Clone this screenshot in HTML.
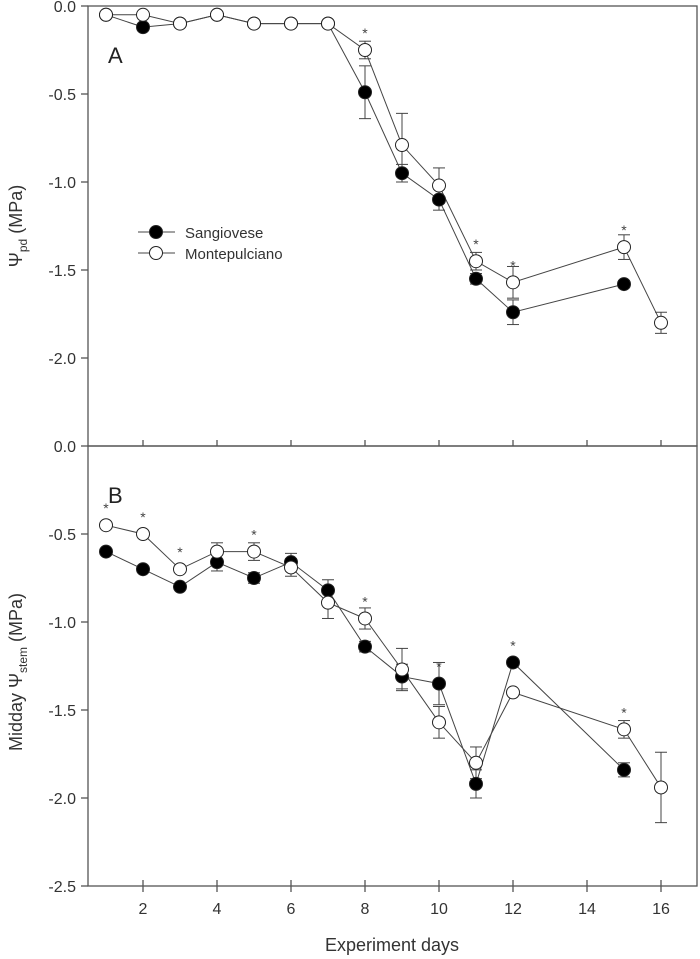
<!DOCTYPE html>
<html><head><meta charset="utf-8"><style>
body{margin:0;background:#fff}
svg{display:block;font-family:"Liberation Sans",Arial,sans-serif}
</style></head><body>
<svg id="chart" width="700" height="959" xmlns="http://www.w3.org/2000/svg"></svg>
<script>
const daysSA=[1,2,3,4,5,6,7,8,9,10,11,12,15];
const valSA=[-0.05,-0.12,-0.10,-0.05,-0.10,-0.10,-0.10,-0.49,-0.95,-1.10,-1.55,-1.74,-1.58];
const errSA=[0,0.02,0,0,0,0,0,0.15,0.05,0.06,0.03,0.07,0.02];
const daysMA=[1,2,3,4,5,6,7,8,9,10,11,12,15,16];
const valMA=[-0.05,-0.05,-0.10,-0.05,-0.10,-0.10,-0.10,-0.25,-0.79,-1.02,-1.45,-1.57,-1.37,-1.80];
const errMA=[0,0,0,0,0,0,0,0.05,0.18,0.10,0.05,0.09,0.07,0.06];
const starsA=[[8,-0.25],[11,-1.45],[12,-1.57],[15,-1.37]];
const daysSB=[1,2,3,4,5,6,7,8,9,10,11,12,15];
const valSB=[-0.60,-0.70,-0.80,-0.66,-0.75,-0.66,-0.82,-1.14,-1.31,-1.35,-1.92,-1.23,-1.84];
const errSB=[0,0,0.01,0.05,0.03,0.05,0.06,0.03,0.07,0.12,0.08,0.02,0.04];
const daysMB=[1,2,3,4,5,6,7,8,9,10,11,12,15,16];
const valMB=[-0.45,-0.50,-0.70,-0.60,-0.60,-0.69,-0.89,-0.98,-1.27,-1.57,-1.80,-1.40,-1.61,-1.94];
const errMB=[0,0,0,0.05,0.05,0.05,0.09,0.06,0.12,0.09,0.09,0,0.05,0.2];
const starsB=[[1,-0.45],[2,-0.50],[3,-0.70],[5,-0.60],[8,-0.98],[10,-1.35],[12,-1.23],[15,-1.61]];
const yTicksA=[0,-0.5,-1.0,-1.5,-2.0];
const yTicksB=[0,-0.5,-1.0,-1.5,-2.0,-2.5];
const xTicks=[2,4,6,8,10,12,14,16];

const NS="http://www.w3.org/2000/svg";
const svg=document.getElementById('chart');
const L=88,R=697,C="#555";
function xs(d){return 143+(d-2)*37;}
function mk(tag,attrs,parent){const e=document.createElementNS(NS,tag);for(const k in attrs)e.setAttribute(k,attrs[k]);(parent||svg).appendChild(e);return e;}
function panel(top,bottom,name,label,sets,stars,showBottomLabels,yTicks){
  const ys=v=>top+(-v)/2.5*(bottom-top);
  const g=mk('g',{});
  
  
  let r=mk('rect',{x:L,y:top,width:R-L,height:bottom-top,fill:'none',stroke:C,'stroke-width':1.3},g);
  
  
  yTicks.forEach(t=>{
    mk('line',{x1:L-7,x2:L,y1:ys(t),y2:ys(t),stroke:C,'stroke-width':1.3},g);
    const tx=mk('text',{x:L-12,y:ys(t)+6,'text-anchor':'end','font-size':16,fill:'#333'},g);
    tx.textContent=t.toFixed(1);
    
    
  });
  xTicks.forEach(d=>{
    mk('line',{x1:xs(d),x2:xs(d),y1:bottom,y2:bottom-6,stroke:C,'stroke-width':1.3},g);
    if(showBottomLabels){
      mk('line',{x1:xs(d),x2:xs(d),y1:bottom,y2:bottom+6,stroke:C,'stroke-width':1.3},g);
      const tx=mk('text',{x:xs(d),y:bottom+28,'text-anchor':'middle','font-size':16,fill:'#333'},g);
      tx.textContent=d;
      
      
    }
  });
  sets.forEach(s=>{
    const pts=s.days.map((d,i)=>xs(d)+','+ys(s.vals[i])).join(' ');
    const pl=mk('polyline',{points:pts,fill:'none',stroke:'#444','stroke-width':1},g);
    
    
    s.days.forEach((d,i)=>{
      const e=s.errs[i];
      if(e>0){
        const x=xs(d),y1=ys(s.vals[i]-e),y2=ys(s.vals[i]+e);
        mk('line',{x1:x,x2:x,y1:y1,y2:y2,stroke:'#444','stroke-width':1},g);
        mk('line',{x1:x-6,x2:x+6,y1:y1,y2:y1,stroke:'#444','stroke-width':1},g);
        mk('line',{x1:x-6,x2:x+6,y1:y2,y2:y2,stroke:'#444','stroke-width':1},g);
      }
    });
  });
  sets.forEach(s=>{
    s.days.forEach((d,i)=>{
      const c=mk('circle',{cx:xs(d),cy:ys(s.vals[i]),r:6.5,fill:s.fill,stroke:'#222','stroke-width':1},g);
      
      
    });
  });
  stars.forEach(([d,v])=>{
    const t=mk('text',{x:xs(d),y:ys(v)-12,'text-anchor':'middle','font-size':14,fill:'#444'},g);
    t.textContent='*';
    
    
  });
  const pl=mk('text',{x:108,y:top+57,'font-size':22,fill:'#222'},g);
  pl.textContent=label;
  
  
}
panel(6,446,'panel-a','A',[
 {name:'sangiovese-a',days:daysSA,vals:valSA,errs:errSA,fill:'#000'},
 {name:'montepulciano-a',days:daysMA,vals:valMA,errs:errMA,fill:'#fff'}],starsA,false,yTicksA);
panel(446,886,'panel-b','B',[
 {name:'sangiovese-b',days:daysSB,vals:valSB,errs:errSB,fill:'#000'},
 {name:'montepulciano-b',days:daysMB,vals:valMB,errs:errMB,fill:'#fff'}],starsB,true,yTicksB);
</script>
<svg style="position:absolute;left:0;top:0" width="700" height="959" xmlns="http://www.w3.org/2000/svg" font-family="Liberation Sans, Arial, sans-serif">
  <g>
    <g>
      <line x1="138" x2="175" y1="232" y2="232" stroke="#444"/>
      <circle cx="156" cy="232" r="6.5" fill="#000" stroke="#222"/>
      <text x="185" y="238" font-size="15" fill="#333">Sangiovese</text>
    </g>
    <g>
      <line x1="138" x2="175" y1="253" y2="253" stroke="#444"/>
      <circle cx="156" cy="253" r="6.5" fill="#fff" stroke="#222"/>
      <text x="185" y="259" font-size="15" fill="#333">Montepulciano</text>
    </g>
  </g>
  <text transform="translate(22,226) rotate(-90)" text-anchor="middle" font-size="18" fill="#333">Ψ<tspan font-size="12" dy="5">pd</tspan><tspan dy="-5"> (MPa)</tspan></text>
  <text transform="translate(22,672) rotate(-90)" text-anchor="middle" font-size="18" fill="#333">Midday Ψ<tspan font-size="12" dy="5">stem</tspan><tspan dy="-5"> (MPa)</tspan></text>
  <text x="392" y="951" text-anchor="middle" font-size="18" fill="#333">Experiment days</text>
</svg>
</body></html>
